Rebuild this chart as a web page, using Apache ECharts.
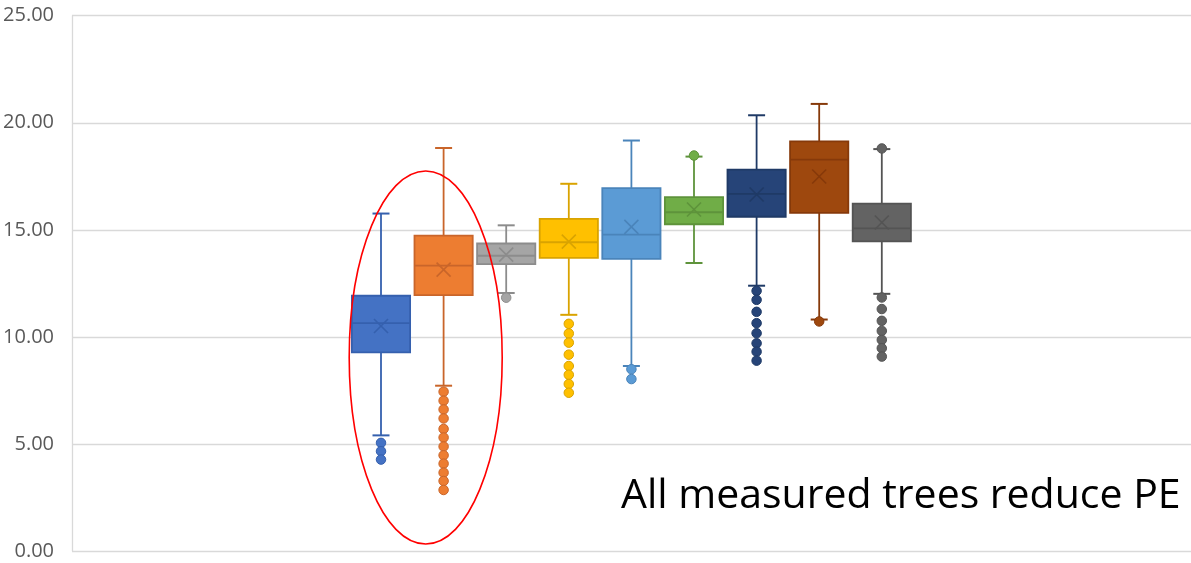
<!DOCTYPE html>
<html>
<head>
<meta charset="utf-8">
<script src="https://cdn.jsdelivr.net/npm/echarts@6/dist/echarts.min.js"></script>
<style>
html,body{margin:0;padding:0;background:#fff;}
#chart{width:1191px;height:563px;}
</style>
</head>
<body>
<div id="chart"></div>
<script>
// ---- data ----
const groups   = ['G1','G2','G3','G4','G5','G6','G7','G8','G9'];
const mins     = [5.40, 7.72, 12.05, 11.03, 8.64, 13.45, 12.39, 10.81, 12.01];
const q1s      = [9.28, 11.95, 13.40, 13.69, 13.64, 15.26, 15.61, 15.79, 14.46];
const medians  = [10.64, 13.33, 13.79, 14.42, 14.78, 15.82, 16.68, 18.28, 15.07];
const q3s      = [11.92, 14.73, 14.36, 15.51, 16.95, 16.53, 17.81, 19.13, 16.22];
const maxs     = [15.76, 18.82, 15.21, 17.15, 19.17, 18.42, 20.35, 20.88, 18.77];
const means    = [10.51, 13.14, 13.84, 14.45, 15.14, 15.95, 16.65, 17.49, 15.34];
const outliers = [
  [5.05, 4.66, 4.27],
  [7.44, 7.02, 6.61, 6.19, 5.70, 5.30, 4.88, 4.47, 4.08, 3.66, 3.27, 2.85],
  [11.83],
  [10.61, 10.16, 9.73, 9.17, 8.64, 8.23, 7.80, 7.39],
  [8.49, 8.03],
  [18.47],
  [12.15, 11.73, 11.17, 10.64, 10.17, 9.70, 9.31, 8.89],
  [10.72],
  [18.80, 11.84, 11.30, 10.75, 10.28, 9.86, 9.47, 9.08]
];
const yTicks = [0, 5, 10, 15, 20, 25];

// ---- styles ----
const fills   = ['#4472C4','#ED7D31','#A5A5A5','#FFC000','#5B9BD5','#70AD47','#264478','#9E480E','#636363'];
const strokes = ['#3560AE','#C9652A','#8C8C8C','#D9A300','#4A84BA','#5E933B','#1F3A66','#86390A','#545454'];

const boxData = groups.map((g, i) => [i, mins[i], q1s[i], medians[i], q3s[i], maxs[i], means[i]]);
const outData = [];
outliers.forEach((arr, i) => arr.forEach(v => outData.push({
  value: [i, v],
  itemStyle: {color: fills[i], borderColor: strokes[i], borderWidth: 1, opacity: 1}
})));

const chart = echarts.init(document.getElementById('chart'), null, {renderer: 'canvas'});

const TOP = 15.7, BOTTOM = 12;

chart.setOption({
  animation: false,
  backgroundColor: '#ffffff',
  grid: [
    {left: 72, right: 0, top: TOP, bottom: BOTTOM, containLabel: false},
    {left: 349.7, right: 277.9, top: TOP, bottom: BOTTOM, containLabel: false}
  ],
  xAxis: [
    {gridIndex: 0, type: 'category', data: [''], show: false},
    {gridIndex: 1, type: 'category', data: groups, show: false}
  ],
  yAxis: [
    {
      gridIndex: 0, type: 'value', min: yTicks[0], max: yTicks[yTicks.length - 1], interval: 5,
      axisLine: {show: true, lineStyle: {color: '#D9D9D9', width: 1.3}},
      axisTick: {show: false},
      splitLine: {show: true, lineStyle: {color: '#D9D9D9', width: 1.3}},
      axisLabel: {
        formatter: v => v.toFixed(2), color: '#595959', fontSize: 20,
        fontFamily: 'Open Sans', margin: 18
      }
    },
    {gridIndex: 1, type: 'value', min: 0, max: 25, interval: 5, show: false, splitLine: {show: false}}
  ],
  series: [
    {
      type: 'custom',
      xAxisIndex: 1, yAxisIndex: 1,
      data: boxData,
      z: 2,
      renderItem: function (params, api) {
        const i = api.value(0);
        const x = api.coord([i, 0])[0];
        const band = api.size([1, 0])[0];
        const bw = band * 0.93;
        const yMin = api.coord([i, api.value(1)])[1];
        const yQ1 = api.coord([i, api.value(2)])[1];
        const yMed = api.coord([i, api.value(3)])[1];
        const yQ3 = api.coord([i, api.value(4)])[1];
        const yMax = api.coord([i, api.value(5)])[1];
        const yMean = api.coord([i, api.value(6)])[1];
        const s = strokes[i], f = fills[i];
        const lw = 1.8, cap = 8.5, mx = 7;
        const line = (x1, y1, x2, y2, w) => ({
          type: 'line', shape: {x1, y1, x2, y2},
          style: {stroke: s, lineWidth: w || lw}
        });
        return {
          type: 'group',
          children: [
            line(x, yMax, x, yQ3),
            line(x, yQ1, x, yMin),
            line(x - cap, yMax, x + cap, yMax, 2),
            line(x - cap, yMin, x + cap, yMin, 2),
            {
              type: 'rect',
              shape: {x: x - bw / 2, y: yQ3, width: bw, height: yQ1 - yQ3},
              style: {fill: f, stroke: s, lineWidth: lw}
            },
            line(x - bw / 2, yMed, x + bw / 2, yMed),
            line(x - mx, yMean - mx, x + mx, yMean + mx, 1.6),
            line(x - mx, yMean + mx, x + mx, yMean - mx, 1.6)
          ]
        };
      }
    },
    {
      type: 'scatter',
      xAxisIndex: 1, yAxisIndex: 1,
      data: outData,
      symbol: 'circle',
      symbolSize: 9.5,
      itemStyle: {opacity: 1},
      z: 3
    }
  ],
  graphic: [
    {
      type: 'ellipse',
      shape: {cx: 425.7, cy: 357.5, rx: 76.5, ry: 186.5},
      style: {fill: 'none', stroke: '#FF0000', lineWidth: 1.6},
      z: 10
    },
    {
      type: 'text',
      left: 621, top: 476,
      style: {
        text: 'All measured trees reduce PE',
        fill: '#000000', fontSize: 41, fontFamily: 'Open Sans'
      },
      z: 10
    }
  ]
});
</script>
</body>
</html>
